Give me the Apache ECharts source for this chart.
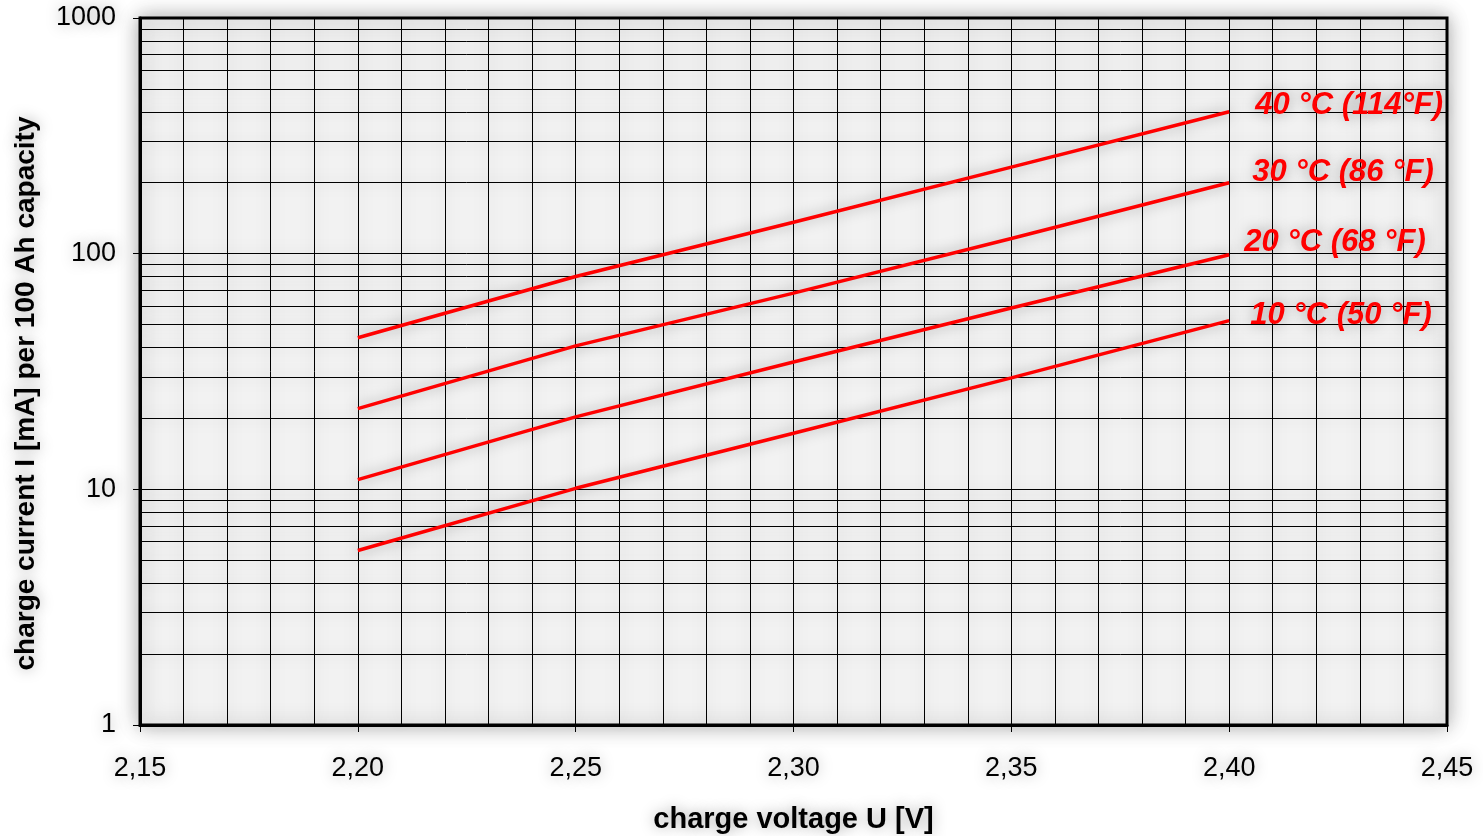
<!DOCTYPE html>
<html>
<head>
<meta charset="utf-8">
<script src="https://cdn.jsdelivr.net/npm/echarts@6/dist/echarts.min.js"></script>
<style>
  html, body { margin: 0; padding: 0; background: #fff; }
  #chart { width: 1483px; height: 836px; }
</style>
</head>
<body>
<div id="chart"></div>
<script>
// charge voltage [V]
var voltages = [2.20, 2.25, 2.30, 2.35, 2.40];
// charge current [mA] per 100 Ah, per temperature
var current40 = [44, 80, 136, 233, 400];
var current30 = [22, 40.6, 68, 116, 200];
var current20 = [11, 20.3, 34.7, 58.8, 99];
var current10 = [5.5, 10.1, 17.3, 29.7, 52];
var seriesNames = ['40 °C (114°F)', '30 °C (86 °F)', '20 °C (68 °F)', '10 °C (50 °F)'];
// minor horizontal grid lines of the log axis
var minorLevels = [2, 3, 4, 5, 6, 7, 8, 9, 20, 30, 40, 50, 60, 70, 80, 90, 200, 300, 400, 500, 600, 700, 800, 900];

var chart = echarts.init(document.getElementById('chart'));

var FONT = 'Liberation Sans, Arial, sans-serif';
var shadowText = {
  textShadowColor: 'rgba(0,0,0,0.35)',
  textShadowBlur: 14
};
var gridLine = {
  color: '#000',
  width: 1,
  shadowColor: 'rgba(0,0,0,0.28)',
  shadowBlur: 16
};

function pairs(ys) {
  return voltages.map(function (x, i) { return [x, ys[i]]; });
}

// end labels sit a little off the line ends, like in the original sheet
function makeSeries(name, ys, labelOffset) {
  return {
    name: name,
    type: 'line',
    data: pairs(ys),
    symbol: 'none',
    smooth: false,
    z: 5,
    lineStyle: {
      color: '#ff0000',
      width: 3.5,
      shadowColor: 'rgba(0,0,0,0.35)',
      shadowBlur: 14
    },
    endLabel: {
      show: true,
      formatter: name,
      color: '#ff0000',
      fontFamily: FONT,
      fontSize: 31,
      fontWeight: 'bold',
      fontStyle: 'italic',
      distance: 24,
      offset: labelOffset,
      textShadowColor: 'rgba(0,0,0,0.35)',
      textShadowBlur: 14
    }
  };
}

var option = {
  animation: false,
  backgroundColor: '#ffffff',
  grid: {
    left: 140,
    top: 18,
    right: 36,
    bottom: 111,
    outerBoundsMode: 'none',
    containLabel: false,
    show: true,
    backgroundColor: '#f2f2f2',
    borderColor: '#000',
    borderWidth: 3,
    shadowColor: 'rgba(0,0,0,0.3)',
    shadowBlur: 20
  },
  xAxis: {
    type: 'value',
    min: 2.15,
    max: 2.45,
    interval: 0.05,
    name: 'charge voltage U [V]',
    nameLocation: 'middle',
    nameGap: 80,
    nameTextStyle: Object.assign({
      color: '#000',
      fontFamily: FONT,
      fontSize: 29,
      fontWeight: 'bold'
    }, shadowText),
    axisLine: { show: true, lineStyle: { color: '#000', width: 3 } },
    axisTick: { show: true, length: 7, lineStyle: { color: '#000', width: 1 } },
    axisLabel: Object.assign({
      color: '#000',
      fontFamily: FONT,
      fontSize: 27,
      margin: 30,
      formatter: function (v) { return v.toFixed(2).replace('.', ','); }
    }, shadowText),
    splitLine: { show: true, lineStyle: gridLine },
    minorTick: { show: false, splitNumber: 5 },
    minorSplitLine: { show: true, lineStyle: gridLine }
  },
  yAxis: {
    type: 'log',
    logBase: 10,
    min: 1,
    max: 1000,
    name: 'charge current I [mA] per 100 Ah capacity',
    nameLocation: 'middle',
    nameGap: 100,
    nameTextStyle: Object.assign({
      color: '#000',
      fontFamily: FONT,
      fontSize: 28,
      fontWeight: 'bold',
      padding: [0, 0, 0, -44]
    }, shadowText),
    axisLine: { show: true, lineStyle: { color: '#000', width: 3 } },
    axisTick: { show: true, length: 7, lineStyle: { color: '#000', width: 1 } },
    axisLabel: Object.assign({
      color: '#000',
      fontFamily: FONT,
      fontSize: 27,
      margin: 24,
      formatter: function (v) { return String(v); }
    }, shadowText),
    splitLine: { show: true, lineStyle: gridLine }
  },
  series: [
    makeSeries(seriesNames[0], current40, [2, -6]),
    makeSeries(seriesNames[1], current30, [-1, -10]),
    makeSeries(seriesNames[2], current20, [-9, -12]),
    makeSeries(seriesNames[3], current10, [-3, -5]),
    {
      name: 'minor grid',
      type: 'line',
      data: [],
      silent: true,
      z: 1,
      markLine: {
        silent: true,
        symbol: 'none',
        animation: false,
        label: { show: false },
        lineStyle: Object.assign({ type: 'solid' }, gridLine),
        data: minorLevels.map(function (v) { return { yAxis: v }; })
      }
    }
  ]
};

chart.setOption(option);
</script>
</body>
</html>
